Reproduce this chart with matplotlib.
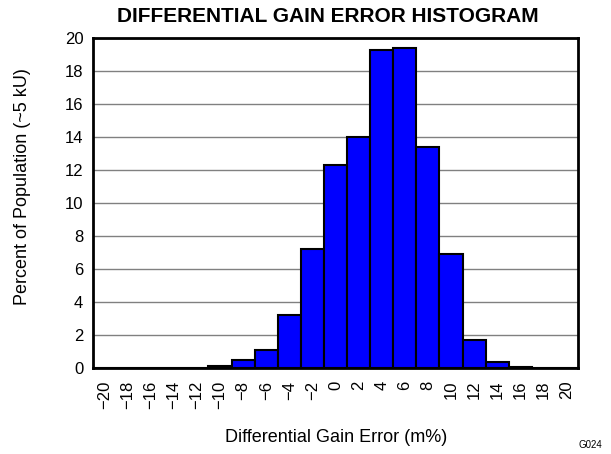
import matplotlib
matplotlib.use("Agg")
import matplotlib.pyplot as plt
import numpy as np

plt.rcParams['font.family'] = ['Liberation Sans', 'DejaVu Sans']

categories = [-20, -18, -16, -14, -12, -10, -8, -6, -4, -2, 0, 2, 4, 6, 8, 10, 12, 14, 16, 18, 20]
percent = [0, 0, 0, 0, 0.02, 0.1, 0.5, 1.1, 3.2, 7.2, 12.3, 14.0, 19.3, 19.4, 13.4, 6.9, 1.7, 0.35, 0.05, 0, 0]
yticks = [0, 2, 4, 6, 8, 10, 12, 14, 16, 18, 20]

W, H = 611, 454
fig = plt.figure(figsize=(W/100, H/100), dpi=100)
ax = fig.add_axes([93/W, 1-368/H, (578-93)/W, (368-38)/H])

x = np.arange(len(categories))
ax.bar(x, percent, width=1.0, color='#0000FF', edgecolor='black', linewidth=1.5, zorder=3)

ax.set_xlim(-0.5, len(categories)-0.5)
ax.set_ylim(0, 20)
ax.set_yticks(yticks)
ax.set_yticklabels([str(v) for v in yticks], fontsize=12)
ax.set_xticks(x)
ax.set_xticklabels([str(c).replace('-', '\u2212') for c in categories], rotation=90, fontsize=12)
ax.tick_params(axis='x', length=0, pad=9)
ax.tick_params(axis='y', length=0, pad=7)
ax.grid(axis='y', color='#808080', linewidth=1.0, zorder=0)
for s in ax.spines.values():
    s.set_linewidth(2)
    s.set_zorder(5)

fig.text(328/W, 1-16/H, 'DIFFERENTIAL GAIN ERROR HISTOGRAM', ha='center', va='center',
         fontsize=15, fontweight='bold')
fig.text(23/W, 1-187/H, 'Percent of Population (~5 kU)', rotation=90, ha='center', va='center', fontsize=13)
fig.text(336/W, 1-438/H, 'Differential Gain Error (m%)', ha='center', va='center', fontsize=13)
fig.text(590/W, 1-445/H, 'G024', ha='center', va='center', fontsize=7)

fig.savefig('out.png', dpi=100)
